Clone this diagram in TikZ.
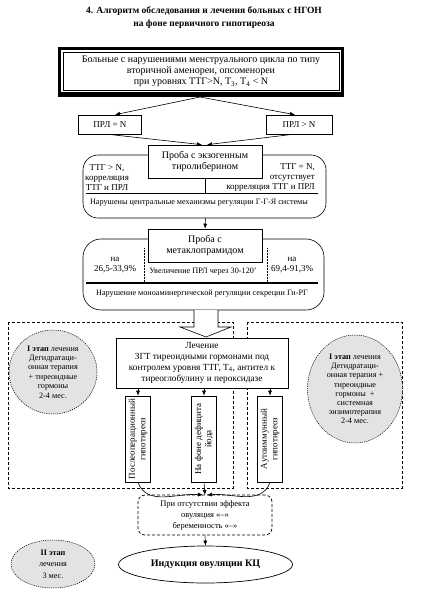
\documentclass[tikz,border=0pt]{standalone}
\usepackage{fontspec}
\setmainfont{Liberation Serif}
\usetikzlibrary{arrows.meta,shapes.geometric}
\newcommand\szttl{\fontsize{9.5}{13}\selectfont\bfseries}
\newcommand\szbig{\fontsize{10}{11}\selectfont}
\newcommand\szmid{\fontsize{9}{10.4}\selectfont}
\newcommand\szsml{\fontsize{8.2}{10}\selectfont}
\begin{document}
\begin{tikzpicture}[x=1pt,y=-1pt,
  box/.style={draw, line width=0.6pt, fill=white, inner sep=0pt, align=center},
  rbox/.style={draw, line width=0.6pt, inner sep=0pt},
  txt/.style={inner sep=0pt, align=center},
  arr/.style={-{Latex[length=5pt,width=4pt]}, line width=0.6pt},
  dbox/.style={draw, line width=0.7pt, dash pattern=on 3pt off 2pt},
  gell/.style={ellipse, draw, line width=0.5pt, dash pattern=on 1.2pt off 1pt, fill=gray!22, inner sep=0pt, align=center}
]
\useasboundingbox (0,0) rectangle (435,596);
\fill[white] (0,0) rectangle (435,596);

% title
\node[txt, font=\szttl] (title) at (204,18) {4. Алгоритм обследования и лечения больных с НГОН\\на фоне первичного гипотиреоза};

% top box
\fill[black] (58,47) rectangle (344,97);
\fill[white] (61,50) rectangle (341,92);
\node[draw, line width=0.5pt, minimum width=276pt, minimum height=38pt, inner sep=0pt] (top) at (201,71) {};
\node[txt, font=\szbig] (toptxt) at (201,71.5) {Больные с нарушениями менструального цикла по типу\\вторичной аменореи, опсоменореи\\при уровнях ТТГ>N, T\textsubscript{3}, T\textsubscript{4} < N};
\coordinate (topb) at (200,97);

% PRL boxes
\node[box, font=\szmid, minimum width=63pt, minimum height=19pt] (prlN) at (110,124.5) {ПРЛ = N};
\node[box, font=\szmid, minimum width=66pt, minimum height=19pt] (prlG) at (299,124.5) {ПРЛ > N};
\draw[arr] (topb) -- ([xshift=5pt]prlN.north);
\draw[arr] (topb) -- ([xshift=-4pt]prlG.north);

% rounded box 1
\node[rbox, rounded corners=15pt, minimum width=243pt, minimum height=63pt] (rb1) at (204.5,186.5) {};
\node[box, font=\szbig, minimum width=114pt, minimum height=33pt] (p1) at (205,161.5) {Проба с экзогенным\\тиролиберином};
\draw[arr] ([xshift=-2pt]prlN.south) -- ([xshift=-3pt]p1.north);
\draw[arr] ([xshift=-6pt]prlG.south) -- ([xshift=2pt]p1.north);
\coordinate (hl1a) at (86,193);
\coordinate (hl1b) at (318,193);
\draw[line width=0.6pt] (hl1a) -- (hl1b);
\draw[line width=0.6pt] (p1.south) -- (p1.south |- hl1a);
\node[txt, font=\szmid] (l1) at (107,177.5) {ТТГ > N,\\корреляция\\ТТГ и ПРЛ};
\node[txt, font=\szmid, align=right, anchor=east] (r1) at (315,177.5) {ТТГ = N,\\отсутствует\\корреляция ТТГ и ПРЛ};
\node[txt, font=\szsml] (b1) at (199,203) {Нарушены центральные механизмы регуляции Г-Г-Я системы};

% rounded box 2
\node[rbox, rounded corners=18pt, minimum width=241pt, minimum height=71pt] (rb2) at (203.5,274.5) {};
\node[box, font=\szbig, minimum width=114pt, minimum height=33pt] (p2) at (205,245.5) {Проба с\\метаклопрамидом};
\draw[arr] ([xshift=1pt]rb1.south) -- (p2.north);
\draw[line width=0.5pt, densely dotted] (144,248) -- (144,282);
\draw[line width=0.5pt, densely dotted] (267,248) -- (267,282);
\draw[line width=1.6pt] (86,283) -- (318,283);
\node[txt, font=\szmid] (l2) at (115,265) {на\\26,5-33,9\%};
\node[txt, font=\szmid] (r2) at (292,265) {на\\69,4-91,3\%};
\node[txt, font=\szsml] (m2) at (203,272) {Увеличение ПРЛ через 30-120'};
\node[txt, font=\szsml] (b2) at (202,293.5) {Нарушение моноаминергической регуляции секреции Гн-РГ};

% dashed regions
\draw[dbox] (8,322) rectangle (233,488);
\draw[dbox] (247,322) rectangle (402,488);

% block arrow
\draw[line width=0.6pt, fill=white] (194,310) -- (194,327) -- (180,327) -- (206,337) -- (231,327) -- (218,327) -- (218,310);

% treatment box
\node[box, font=\fontsize{9.3}{11}\selectfont, minimum width=172pt, minimum height=50pt] (tr) at (202,363) {Лечение\\ЗГТ тиреоидными гормонами под\\контролем уровня ТТГ, T\textsubscript{4}, антител к\\тиреоглобулину и пероксидазе};

% vertical boxes
\node[box, minimum width=25pt, minimum height=86pt] (v1) at (138,439) {};
\node[box, minimum width=25pt, minimum height=86pt] (v2) at (204,439) {};
\node[box, minimum width=25pt, minimum height=86pt] (v3) at (270,439) {};
\node[txt, font=\szmid, rotate=90] (v1t) at (v1) {Послеоперационный\\гипотиреоз};
\node[txt, font=\szmid, rotate=90] (v2t) at (v2) {На фоне дефицита\\йода};
\node[txt, font=\szmid, rotate=90] (v3t) at (v3) {Аутоиммунный\\гипотиреоз};
\draw[arr] (tr.south -| v1) -- (v1.north);
\draw[arr] (tr.south -| v2) -- (v2.north);
\draw[arr] (tr.south -| v3) -- (v3.north);

% converging
\coordinate (conv) at (205,495);
\draw[arr] (v1.south) to[out=-70,in=175] ([xshift=-2pt]conv);
\draw[arr] (v2.south) -- (conv);
\draw[arr] (v3.south) to[out=-110,in=5] ([xshift=2pt]conv);

% no-effect box
\node[draw, line width=0.7pt, dash pattern=on 3pt off 2pt, rounded corners=7pt, inner sep=0pt, minimum width=134pt, minimum height=40pt, align=center, font=\fontsize{8.5}{11}\selectfont] (ne) at (205,515) {При отсутствии эффекта\\овуляция «–»\\беременность «–»};

% induction ellipse
\node[ellipse, draw, line width=0.7pt, inner sep=0pt, minimum width=174pt, minimum height=37pt, font=\fontsize{10}{12}\selectfont\bfseries] (ind) at (205.5,564.5) {Индукция овуляции КЦ};
\draw[arr] (ne.south) -- (ind.north);

% gray ellipses
\node[gell, minimum width=88pt, minimum height=84pt, font=\fontsize{8.2}{9.4}\selectfont] (e1) at (53,372) {\textbf{I этап} лечения\\Дегидратаци-\\онная терапия\\+ тиреоидные\\гормоны\\2-4 мес.};
\node[gell, minimum width=95pt, minimum height=108pt, font=\fontsize{8.2}{9.2}\selectfont] (e2) at (355,389) {\textbf{I этап} лечения\\Дегидратаци-\\онная терапия +\\тиреоидные\\гормоны\ \ +\\системная\\энзимотерапия\\2-4 мес.};
\node[gell, minimum width=84pt, minimum height=48pt, font=\fontsize{8.2}{11.5}\selectfont] (e3) at (53,564) {\textbf{II этап}\\лечения\\3 мес.};
\end{tikzpicture}
\end{document}
